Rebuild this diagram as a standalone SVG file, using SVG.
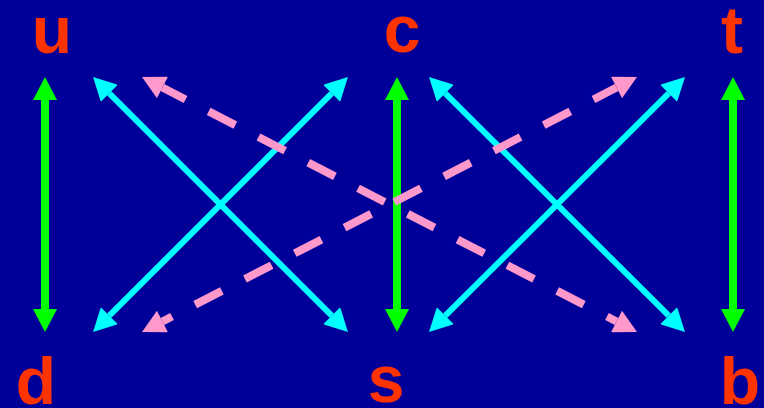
<svg xmlns="http://www.w3.org/2000/svg" width="764" height="408" viewBox="0 0 764 408">
  <style>
    .lbl { font-family: "Liberation Sans", Arial, sans-serif; font-weight: bold; font-size: 66px; fill: #FF3300; text-anchor: middle; }
    .g { stroke: #00FF00; stroke-width: 8; fill: none; }
    .c { stroke: #00FFFF; stroke-width: 6; fill: none; }
    .p { stroke: #FF99CC; stroke-width: 8; fill: none; stroke-dasharray: 30 26; stroke-dashoffset: 4; }
  </style>
  <defs>
    <marker id="hg" markerUnits="userSpaceOnUse" markerWidth="24" markerHeight="24" viewBox="0 -12 23 24" refX="0" refY="0" orient="auto-start-reverse">
      <path d="M0,-12 L23,0 L0,12 z" fill="#00FF00"/>
    </marker>
    <marker id="hc" markerUnits="userSpaceOnUse" markerWidth="24" markerHeight="24" viewBox="0 -12 23 24" refX="0" refY="0" orient="auto-start-reverse">
      <path d="M0,-12 L23,0 L0,12 z" fill="#00FFFF"/>
    </marker>
    <marker id="hp" markerUnits="userSpaceOnUse" markerWidth="24" markerHeight="24" viewBox="0 -12 23 24" refX="0" refY="0" orient="auto-start-reverse">
      <path d="M0,-12 L23,0 L0,12 z" fill="#FF99CC"/>
    </marker>
  </defs>
  <rect x="0" y="0" width="764" height="408" fill="#000099"/>
  <g id="connectors">
    <line class="g" x1="45" y1="100" x2="45" y2="309" marker-start="url(#hg)" marker-end="url(#hg)"/>
    <line class="g" x1="397" y1="100" x2="397" y2="309" marker-start="url(#hg)" marker-end="url(#hg)"/>
    <line class="g" x1="733" y1="100" x2="733" y2="309" marker-start="url(#hg)" marker-end="url(#hg)"/>
    <line class="c" x1="109.3" y1="93.3" x2="331.7" y2="315.7" marker-start="url(#hc)" marker-end="url(#hc)"/>
    <line class="c" x1="331.7" y1="93.3" x2="109.3" y2="315.7" marker-start="url(#hc)" marker-end="url(#hc)"/>
    <line class="c" x1="445.3" y1="93.3" x2="668.7" y2="315.7" marker-start="url(#hc)" marker-end="url(#hc)"/>
    <line class="c" x1="668.7" y1="93.3" x2="445.3" y2="315.7" marker-start="url(#hc)" marker-end="url(#hc)"/>
    <line class="p" x1="162.45" y1="87.53" x2="616.55" y2="321.47" marker-start="url(#hp)" marker-end="url(#hp)"/>
    <line class="p" x1="616.55" y1="87.53" x2="162.45" y2="321.47" marker-start="url(#hp)" marker-end="url(#hp)"/>
  </g>
  <g id="node-u"><text class="lbl" x="52" y="53">u</text></g>
  <g id="node-c"><text class="lbl" x="402" y="52">c</text></g>
  <g id="node-t"><text class="lbl" x="732" y="53">t</text></g>
  <g id="node-d"><text class="lbl" x="36" y="404">d</text></g>
  <g id="node-s"><text class="lbl" x="386" y="402">s</text></g>
  <g id="node-b"><text class="lbl" x="740" y="404">b</text></g>
</svg>
